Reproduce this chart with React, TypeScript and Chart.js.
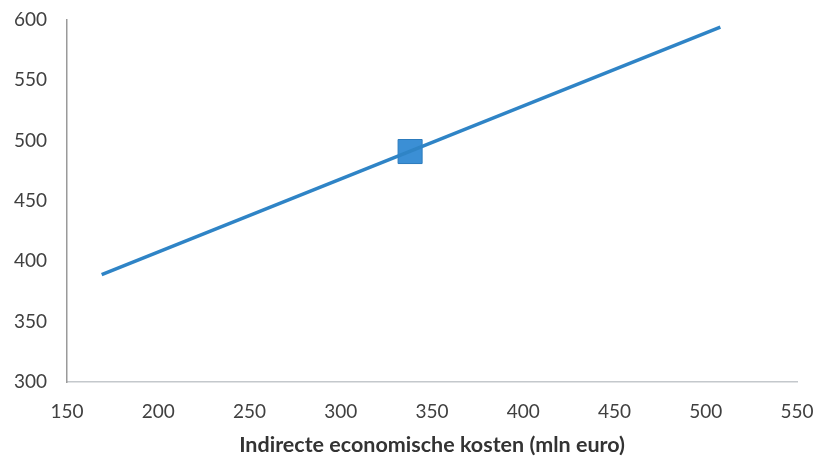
import React, { useEffect, useRef } from "react";
import { Chart, registerables } from "chart.js";

Chart.register(...registerables);

const lineX = [169, 508];
const lineY = [389, 594];
const markerX = [338];
const markerY = [491];
const xTicks = [150, 200, 250, 300, 350, 400, 450, 500, 550];
const yTicks = [300, 350, 400, 450, 500, 550, 600];
const xTitle = "Indirecte economische kosten (mln euro)";

export default function App() {
  const ref = useRef<HTMLCanvasElement>(null);
  useEffect(() => {
    if (!ref.current) return;
    const chart = new Chart(ref.current, {
      type: "scatter",
      data: {
        datasets: [
          {
            data: lineX.map((x, i) => ({ x, y: lineY[i] })),
            showLine: true,
            borderColor: "#2f84c6",
            borderWidth: 3.5,
            pointRadius: 0,
            pointHoverRadius: 0,
          },
          {
            data: markerX.map((x, i) => ({ x, y: markerY[i] })),
            pointStyle: "rect",
            pointRadius: 17,
            backgroundColor: "#3b8fd5",
            borderColor: "#2c7bbd",
            borderWidth: 1,
          },
        ],
      },
      options: {
        responsive: false,
        animation: false,
        layout: { padding: { left: 0, right: 22, top: 20, bottom: 0 } },
        plugins: { legend: { display: false }, tooltip: { enabled: false } },
        scales: {
          x: {
            type: "linear",
            min: xTicks[0],
            max: xTicks[xTicks.length - 1],
            afterBuildTicks: (s: any) => {
              s.ticks = xTicks.map((v) => ({ value: v }));
            },
            afterFit: (s: any) => {
              s.height = 78;
              s.paddingLeft = 0;
              s.paddingRight = 0;
            },
            grid: { display: false, drawTicks: false },
            border: { display: true, color: "#c4c8cc", width: 1.5 },
            ticks: {
              padding: 18,
              color: "#404040",
              font: { family: "Lato", size: 19 },
            },
            title: {
              display: true,
              text: xTitle,
              color: "#333333",
              font: { family: "Lato", size: 21.5, weight: "bold" },
              padding: { top: 0, bottom: 2 },
            },
          },
          y: {
            type: "linear",
            min: yTicks[0],
            max: yTicks[yTicks.length - 1],
            afterBuildTicks: (s: any) => {
              s.ticks = yTicks.map((v) => ({ value: v }));
            },
            afterFit: (s: any) => {
              s.width = 67;
              s.paddingTop = 0;
              s.paddingBottom = 0;
            },
            grid: { display: false, drawTicks: false },
            border: { display: true, color: "#9a9a9a", width: 1.5 },
            ticks: {
              padding: 20,
              color: "#404040",
              font: { family: "Lato", size: 19 },
            },
          },
        },
      },
    });
    return () => chart.destroy();
  }, []);
  return (
    <div style={{ position: "fixed", left: 0, top: 0, width: 819, height: 460, background: "#fff" }}>
      <canvas ref={ref} width={819} height={460} />
    </div>
  );
}
